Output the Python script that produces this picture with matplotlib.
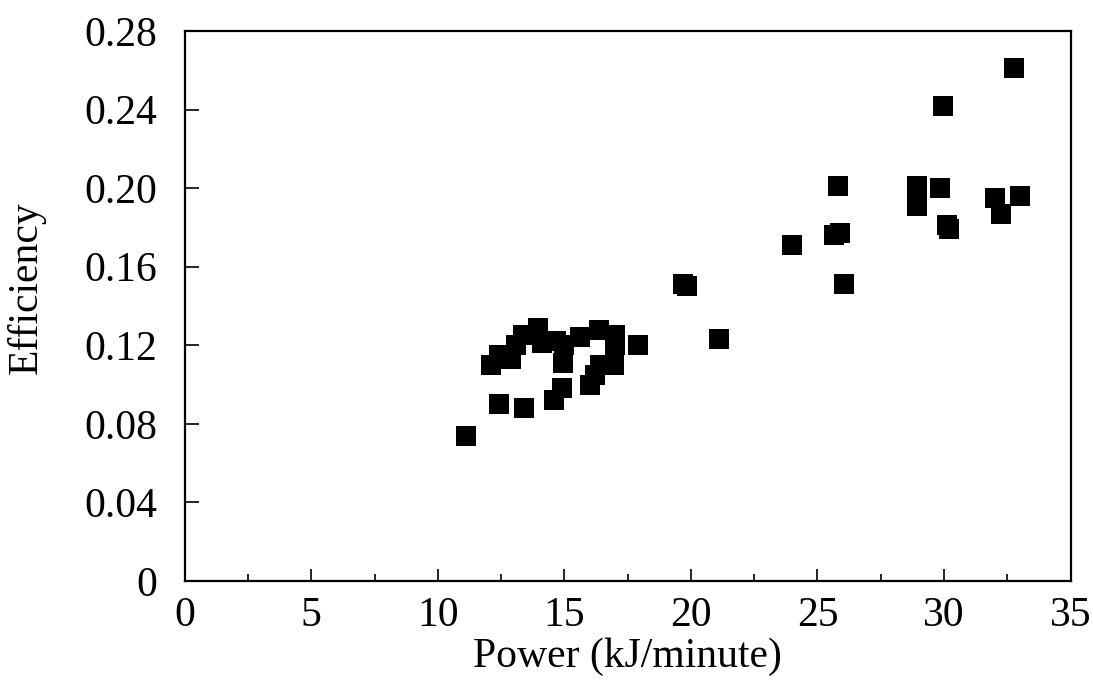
import matplotlib
matplotlib.use("Agg")
import matplotlib.pyplot as plt
from matplotlib.ticker import MultipleLocator, FuncFormatter

# power (kJ/minute) and efficiency
power = [11.1, 12.1, 12.4, 12.9, 13.1, 13.35, 13.95, 14.1, 14.65, 14.95,
         15.0, 15.6, 16.35, 17.0, 17.0, 17.9, 16.4, 16.95, 16.2, 16.0,
         14.9, 14.6, 12.4, 13.4, 19.7, 19.85, 21.1, 24.0, 25.8, 25.65, 25.9,
         26.05, 32.75, 29.95, 28.95, 28.95, 29.85, 30.1, 30.2, 32.0, 32.25, 33.0]
efficiency = [0.074, 0.110, 0.115, 0.113, 0.120, 0.125, 0.129, 0.121, 0.122, 0.111,
              0.120, 0.124, 0.128, 0.125, 0.120, 0.120, 0.110, 0.110, 0.105, 0.100,
              0.098, 0.092, 0.090, 0.088, 0.151, 0.150, 0.123, 0.171, 0.201, 0.176, 0.177,
              0.151, 0.261, 0.242, 0.201, 0.191, 0.200, 0.181, 0.179, 0.195, 0.187, 0.196]

plt.rcParams["font.family"] = ["Liberation Serif", "DejaVu Serif"]

fig = plt.figure(figsize=(10.93, 6.84), dpi=100)
ax = fig.add_axes([0.169, 0.1506, 0.8105, 0.8041])

ax.scatter(power, efficiency, marker="s", s=14**2, color="black", linewidths=0)

ax.set_xlim(0, 35)
ax.set_ylim(0, 0.28)
ax.xaxis.set_major_locator(MultipleLocator(5))
ax.xaxis.set_minor_locator(MultipleLocator(2.5))
ax.yaxis.set_major_locator(MultipleLocator(0.04))
ax.yaxis.set_major_formatter(FuncFormatter(lambda v, p: "0" if abs(v) < 1e-9 else f"{v:.2f}"))

ax.tick_params(axis="x", which="major", direction="in", length=9, width=1.2, labelsize=30, pad=11)
ax.tick_params(axis="x", which="minor", direction="in", length=5, width=1.2)
ax.tick_params(axis="y", which="major", direction="in", length=10, width=1.2, labelsize=30, pad=20)
for s in ax.spines.values():
    s.set_linewidth(1.6)

ax.set_xlabel("Power (kJ/minute)", fontsize=30, labelpad=2)
ax.set_ylabel("Efficiency", fontsize=30)
ax.yaxis.set_label_coords(-0.157, 0.533)

fig.savefig("out.png", dpi=100)
